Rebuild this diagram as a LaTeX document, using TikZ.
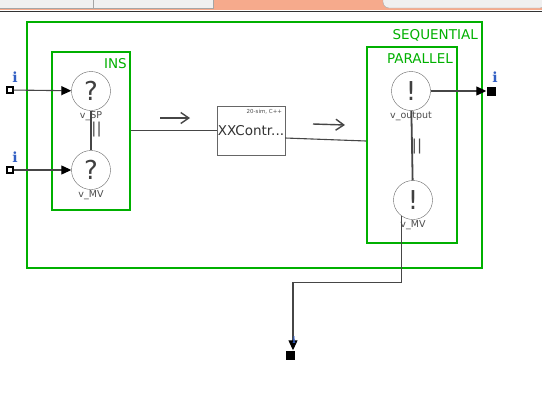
\documentclass[tikz,border=0pt]{standalone}
\usepackage{fontspec}
\setmainfont{DejaVu Sans}
\newfontfamily\portfont{DejaVu Serif}
\usetikzlibrary{arrows.meta,positioning}
\definecolor{grp}{RGB}{0,176,0}
\definecolor{wirec}{RGB}{70,70,70}
\definecolor{portblue}{RGB}{50,95,195}
\definecolor{tabon}{RGB}{246,170,140}
\definecolor{tabbg}{RGB}{240,240,240}
\definecolor{tabedge}{RGB}{165,165,165}

\begin{document}
\begin{tikzpicture}[x=1pt,y=-1pt,
  block/.style={draw=grp, line width=2pt, inner sep=0pt},
  blocklabel/.style={text=grp, font=\fontsize{13.5}{13.5}\selectfont, anchor=east, inner sep=0pt},
  var/.style={circle, draw=black!60, fill=white, minimum size=39pt, inner sep=0pt,
    font=\fontsize{26}{26}\selectfont, text=black!75},
  varlabel/.style={font=\fontsize{9.5}{9.5}\selectfont, text=black!70, inner sep=0pt},
  wire/.style={draw=wirec, line width=1.1pt},
  tip/.style={-{Triangle[length=10pt,width=9pt,color=black]}},
  flow/.style={draw=wirec, line width=1.4pt, -{Straight Barb[length=8pt,width=11pt]}},
  inport/.style={draw=black, line width=1.5pt, fill=white, minimum size=6pt, inner sep=0pt},
  outport/.style={fill=black, minimum size=9pt, inner sep=0pt},
  porttag/.style={text=portblue, font=\portfont\bfseries\fontsize{14}{14}\selectfont, inner sep=0pt},
  bars/.style={text=black!70, font=\fontsize{15}{15}\selectfont, inner sep=0pt}
]
\useasboundingbox (0,0) rectangle (542,413);

% tab bar
\fill[tabon] (0,0) rectangle (542,10);
\filldraw[fill=tabbg, draw=tabedge] (-2,-2) rectangle (93,8);
\filldraw[fill=tabbg, draw=tabedge] (93,-2) rectangle (213,8);
\filldraw[fill=tabbg, draw=tabedge, rounded corners=6pt] (383,-8) rectangle (546,8);
\draw[black!80, line width=1pt] (0,11) -- (542,11);

% blocks
\node[block, minimum width=455pt, minimum height=246pt] (seq) at (254.5,145) {};
\node[blocklabel] at (478,35) {SEQUENTIAL};
\node[block, minimum width=78pt, minimum height=158pt] (ins) at (91,131) {};
\node[blocklabel] at (127,64) {INS};
\node[block, minimum width=90pt, minimum height=196pt] (par) at (412,145) {};
\node[blocklabel] at (453,59) {PARALLEL};

% variables
\node[var] (vsp) at (91,91) {?};
\node[varlabel, below=1pt of vsp] {v\_SP};
\node[var] (vmv) at (91,170) {?};
\node[varlabel, below=1pt of vmv] {v\_MV};
\node[var] (vout) at (411,91) {!};
\node[varlabel, below=1pt of vout] {v\_output};
\node[var] (vmvo) at (413,200) {!};
\node[varlabel, below=1pt of vmvo] {v\_MV};

% controller
\node[draw=black!60, fill=white, minimum width=68pt, minimum height=49pt, inner sep=0pt] (ctrl) at (251,130.5) {};
\node[font=\fontsize{13.5}{13.5}\selectfont, text=black!80, inner sep=0pt] at (ctrl) {XXContr...};
\node[font=\fontsize{5.5}{5.5}\selectfont, text=black!70, anchor=north east, inner sep=0pt]
  at ([xshift=-3pt,yshift=-3pt]ctrl.north east) {20-sim, C++};

% ports
\node[inport] (in1) at (10,90) {};
\node[porttag] at (15,77) {i};
\node[inport] (in2) at (10,170) {};
\node[porttag] at (15,157) {i};
\node[outport] (outr) at (491,91) {};
\node[porttag] at (495,77) {i};
\node[outport] (outb) at (290,355) {};

% connections
\draw[wire, tip] (in1) -- (vsp);
\draw[wire, tip] (in2) -- (vmv);
\draw[wire, line width=1.8pt] (vsp) -- (vmv);
\node[bars] at (96.5,130) {||};
\draw[wire] (ins.east |- ctrl.west) -- (ctrl.west);
\draw[wire] ([yshift=-7.5pt]ctrl.east) -- ([yshift=4pt]par.west);
\draw[wire, line width=1.8pt] (vout) -- (vmvo);
\node[bars] at (417,147) {||};
\draw[wire, tip] (vout) -- (outr.west);
\draw[wire, tip] (vmvo.233) -- ++(0,67) -| ([xshift=3pt]outb.north);
\node[porttag, font=\portfont\bfseries\fontsize{9}{9}\selectfont] at (294,340) {i};

% flow markers
\draw[flow] (160,118) -- (190,118);
\draw[flow] (313,124) -- (345,125);
\end{tikzpicture}
\end{document}
